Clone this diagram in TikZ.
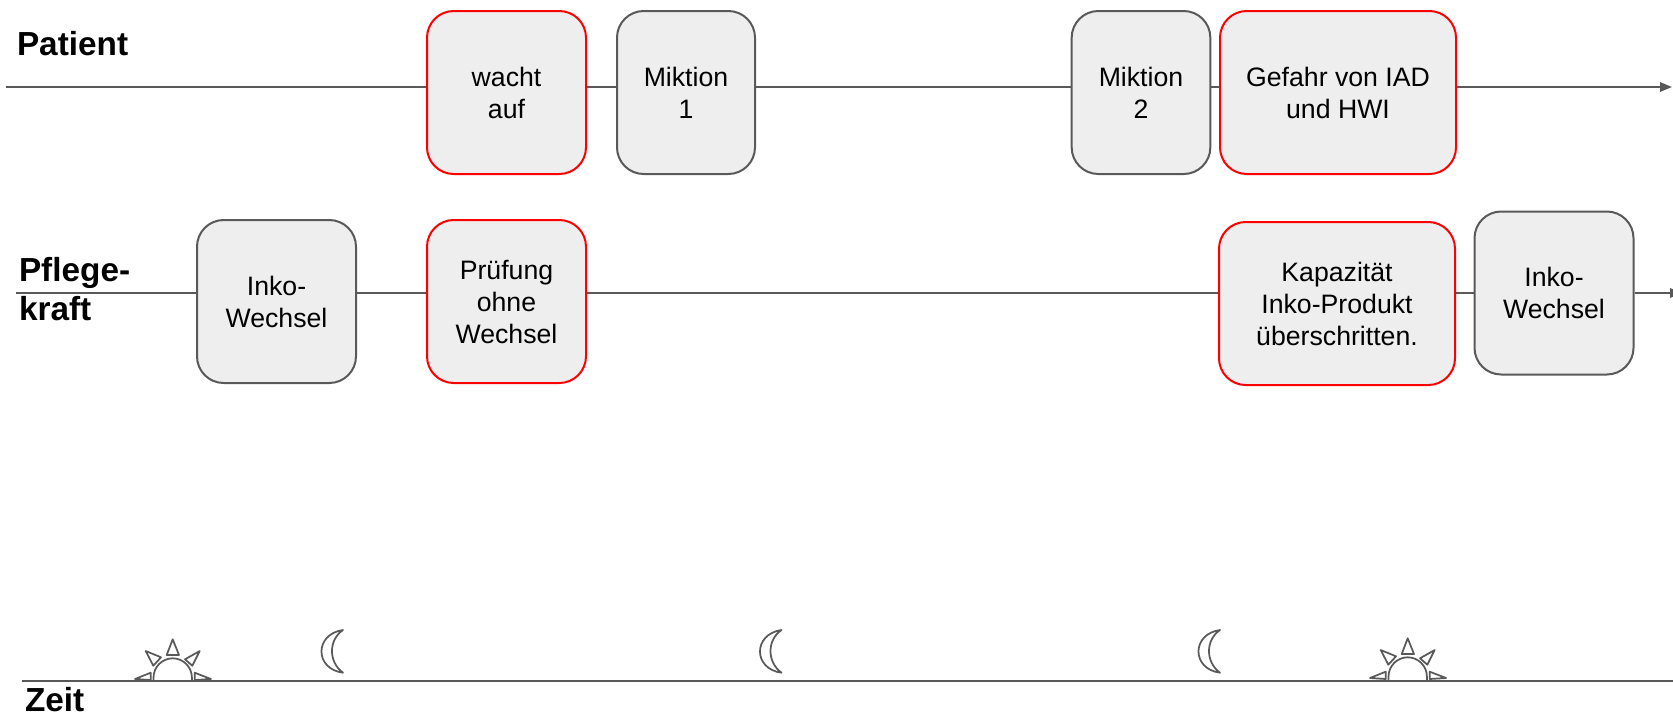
\documentclass[tikz,border=0pt]{standalone}
\usepackage{fontspec}
\setmainfont{Liberation Sans}
\usetikzlibrary{arrows.meta}
\definecolor{lineGray}{HTML}{595959}
\definecolor{blockFill}{HTML}{EEEEEE}
\tikzset{
	block/.style    = {draw=lineGray, line width=1.5pt, fill=blockFill, rectangle,
		rounded corners=20pt, inner sep=0pt, align=center,
		font=\fontsize{20}{24}\selectfont,
		minimum height = 122.25pt},
	riskblock/.style = {block, draw=red},
	rowlabel/.style  = {anchor=west, inner sep=0pt, align=left,
		font=\fontsize{25}{29}\selectfont\bfseries},
	sun/.pic = {
		\draw[icon] (-19.2,0) -- (-19.2,-3.5) .. controls (-19.2,-14) and (-10.5,-22.7) .. (0,-22.7)
			.. controls (10.5,-22.7) and (19.2,-14) .. (19.2,-3.5) -- (19.2,0);
		\draw[icon] (0,-41.7) -- (-6,-26) -- (6.3,-26) -- cycle;
		\draw[icon] (-27,-30) -- (-11.7,-23.7) -- (-19.4,-15.3) -- cycle;
		\draw[icon] (27,-30) -- (12.3,-21.7) -- (19.6,-15.3) -- cycle;
		\draw[icon] (-22,-1) -- (-37.7,-2) -- (-22,-8.3) -- cycle;
		\draw[icon] (22,-1) -- (38.3,-2) -- (22,-8.3) -- cycle;
	},
	moon/.pic = {
		\draw[icon] (0,0) .. controls (-28.7,4) and (-28.7,39) .. (0,42.7)
			.. controls (-14.7,32) and (-14.7,10) .. (0,0) -- cycle;
	},
	icon/.style = {draw=lineGray, line width=1.3pt, line join=round},
}

\begin{document}
\begin{tikzpicture}[ x=0.75pt, y=-0.75pt,            %<--one unit is one pixel of the layout
					line width=1.5pt,                %<--setting line style
					>={Triangle[length=9pt,width=7pt]} ] %<--sets the arrowtype
	\useasboundingbox (0,0) rectangle (1673,715);

	\draw%-----------------------------------------------------------------------------------------
	%Drawing Input/Output:
	node[shape=coordinate][](patientIn) at (6,87){}
	node[shape=coordinate][](patientOut) at (1672,87){}
	node[shape=coordinate][](pflegeIn) at (16,293){}
	node[shape=coordinate][](pflegeOut) at (1682,293){}
	node[shape=coordinate][](zeitIn) at (22,681){}
	node[shape=coordinate][](zeitOut) at (1673,681){}
	%Drawing the Row Labels:
	node(patient) at (16,44) [rowlabel] {Patient}
	node(pflege) at (18,289) [rowlabel] {Pflege-\\kraft}
	node(zeit) at (24,700) [rowlabel] {Zeit}
	%Drawing the Patient Blocks:
	node(wacht) at (506.5,92.5) [riskblock, minimum width=119.25pt] {wacht\\auf}
	node(miktionA) at (686,92.5) [block, minimum width=103.5pt] {Miktion\\1}
	node(miktionB) at (1141,92.5) [block, minimum width=104pt] {Miktion\\2}
	node(gefahr) at (1338,92.5) [riskblock, minimum width=177pt] {Gefahr von IAD\\und HWI}
	%Drawing the Pflege Blocks:
	node(inkoA) at (276.5,301.5) [block, minimum width=119.25pt] {Inko-\\Wechsel}
	node(pruefung) at (506.5,301.5) [riskblock, minimum width=119.25pt] {Prüfung\\ohne\\Wechsel}
	node(kapazitaet) at (1337,303.5) [riskblock, minimum width=177pt] {Kapazität\\Inko-Produkt\\überschritten.}
	node(inkoB) at (1554,293) [block, minimum width=119.25pt] {Inko-\\Wechsel}

	;%---------------------------------------------------------------------------------------------

	%Joining the Blocks
	\draw[lineGray] (patientIn) -- (patientIn -| wacht.west);
	\draw[lineGray] (patientIn -| wacht.east) -- (patientIn -| miktionA.west);
	\draw[lineGray] (patientIn -| miktionA.east) -- (patientIn -| miktionB.west);
	\draw[lineGray] (patientIn -| miktionB.east) -- (patientIn -| gefahr.west);
	\draw[lineGray,->] (patientIn -| gefahr.east) -- (patientOut);

	\draw[lineGray] (pflegeIn) -- (pflegeIn -| inkoA.west);
	\draw[lineGray] (pflegeIn -| inkoA.east) -- (pflegeIn -| pruefung.west);
	\draw[lineGray] (pflegeIn -| pruefung.east) -- (pflegeIn -| kapazitaet.west);
	\draw[lineGray] (pflegeIn -| kapazitaet.east) -- (pflegeIn -| inkoB.west);
	\draw[lineGray,->] (pflegeIn -| inkoB.east) -- (pflegeOut);

	\draw[lineGray] (zeitIn) -- (zeitOut);

	%Drawing the Day and Night Marks
	\pic at (172.7,681) {sun};
	\pic at (343,630) {moon};
	\pic at (781.5,630) {moon};
	\pic at (1220,630) {moon};
	\pic at (1407.7,680) {sun};

\end{tikzpicture}
\end{document}
